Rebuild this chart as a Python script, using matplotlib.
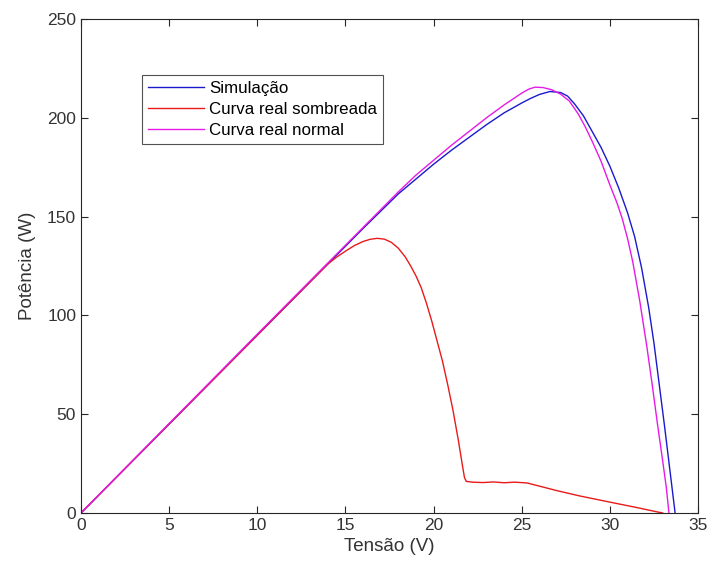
import matplotlib
matplotlib.use("Agg")
import matplotlib.pyplot as plt

plt.rcParams['font.family'] = ['Liberation Sans', 'DejaVu Sans']

# Simulação (blue)
sim_x = [0, 5, 10, 14, 16, 18, 19, 20, 21, 22, 23, 24, 25, 25.5, 26, 26.6, 27.2, 27.6, 28, 28.5, 29, 29.5, 30,
         30.5, 31, 31.4, 31.8, 32.2, 32.5, 32.8, 33.1, 33.4, 33.7]
sim_y = [0, 45, 90, 126, 144, 161.5, 169, 176.5, 183.5, 190, 196.5, 202.5, 207.5, 209.8, 211.8, 213.3, 212.8, 211, 207,
         201, 193, 185, 175.5, 164.5, 152, 140, 124, 104, 86, 65, 44, 22, 0]

# Curva real sombreada (red)
somb_x = [0, 5, 10, 14, 14.5, 15.0, 15.5, 16.0, 16.4, 16.8, 17.2, 17.6, 18.0, 18.4, 18.7, 19.0, 19.3, 19.6, 19.9,
          20.2, 20.5, 20.8, 21.1, 21.4, 21.6, 21.75, 21.85,
          22.2, 22.8, 23.4, 24, 24.6, 25.3, 26, 27, 28.3, 30, 31.5, 32.6, 33.0]
somb_y = [0, 45, 90, 126, 129.5, 132.5, 135.3, 137.4, 138.5, 139, 138.6, 137, 134, 129.5, 125, 120, 114, 106, 97,
          87, 77, 65, 52, 37, 26, 18, 16,
          15.6, 15.4, 15.7, 15.3, 15.6, 15.2, 13.6, 11.3, 8.6, 5.5, 2.8, 0.7, 0]

# Curva real normal (magenta)
norm_x = [0, 5, 10, 14, 16, 18, 19, 20, 21, 22, 23, 24, 24.5, 25, 25.4, 25.75, 26.2, 26.7, 27.2, 27.7, 28.2, 28.6,
          29, 29.5, 30, 30.4, 30.7, 31.0, 31.3, 31.7, 32.1, 32.4, 32.7, 33.0, 33.2, 33.35]
norm_y = [0, 45.3, 90.5, 126.5, 144.5, 162.5, 171, 178.5, 186, 193, 200, 206.5, 209.5, 212.5, 214.5, 215.5, 215.3, 214.2,
          212, 208.5, 202, 195.5, 188, 178, 166, 157, 149, 139, 127, 107, 84, 65, 45, 26, 13, 0]

xticks = [0, 5, 10, 15, 20, 25, 30, 35]
yticks = [0, 50, 100, 150, 200, 250]

fig = plt.figure(figsize=(7.13, 5.74), dpi=100)
ax = fig.add_axes([0.1136, 0.1063, 0.8654, 0.8606])

ax.plot(sim_x, sim_y, color='#1a1acc', lw=1.0, label='Simulação')
ax.plot(somb_x, somb_y, color='#e81a1a', lw=1.0, label='Curva real sombreada')
ax.plot(norm_x, norm_y, color='#e61ae6', lw=1.0, label='Curva real normal')

ax.set_xlim(0, 35)
ax.set_ylim(0, 250)
ax.set_xticks(xticks)
ax.set_yticks(yticks)
axc = '#262626'
for s in ax.spines.values():
    s.set_color(axc)
    s.set_linewidth(0.8)
ax.tick_params(direction='in', length=5, width=0.8, colors=axc, labelsize=12.5,
               top=True, right=True, labelcolor='#333333')
ax.set_xlabel('Tensão (V)', fontsize=13.5, color='#333333', labelpad=4)
ax.set_ylabel('Potência (W)', fontsize=13.5, color='#333333', labelpad=8)

leg = ax.legend(loc='upper left', bbox_to_anchor=(0.099, 0.887), fontsize=12.2,
                frameon=True, fancybox=False, edgecolor=axc, borderaxespad=0,
                handlelength=3.3, handletextpad=0.3, labelspacing=0.35, borderpad=0.35)
leg.get_frame().set_linewidth(0.8)

fig.savefig('out.png', dpi=100)
